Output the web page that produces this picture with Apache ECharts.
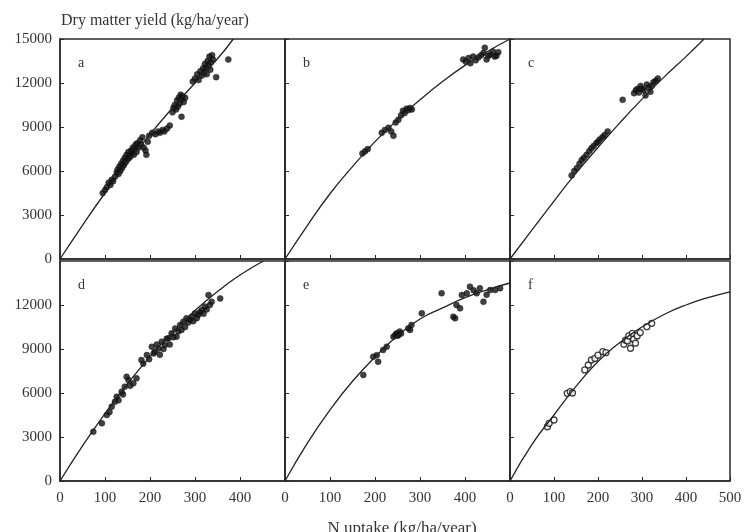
<!DOCTYPE html>
<html>
<head>
<meta charset="utf-8">
<script src="https://cdn.jsdelivr.net/npm/echarts@6/dist/echarts.min.js"></script>
<style>
  html, body { margin: 0; padding: 0; background: #fff; }
  #chart { width: 745px; height: 532px; }
</style>
</head>
<body>
<div id="chart"></div>
<script>
// tick labels
const xTicks = [0, 100, 200, 300, 400, 500]
const yTicks = [0, 3000, 6000, 9000, 12000, 15000]
const panelLetters = ['a', 'b', 'c', 'd', 'e', 'f']

// fitted curves [N uptake, dry matter]
const aCurve = [[0, 0], [50, 2300], [100, 4500], [150, 6550], [200, 8500], [250, 10300], [300, 12000], [350, 13650], [385, 15000]]
const bCurve = [[0, 0], [50, 2300], [100, 4450], [150, 6300], [200, 8000], [250, 9500], [300, 10850], [350, 12100], [400, 13200], [450, 14150], [500, 15000]]
const cCurve = [[0, 0], [100, 3950], [150, 5850], [200, 7600], [250, 9300], [300, 10900], [350, 12400], [400, 13800], [441, 15000]]
const dCurve = [[0, 0], [50, 2400], [100, 4600], [150, 6630], [200, 8480], [250, 10150], [300, 11620], [350, 12920], [400, 14040], [452, 15000]]
const eCurve = [[0, 0], [50, 2600], [100, 4850], [150, 6800], [200, 8450], [250, 9900], [300, 11050], [350, 11800], [400, 12500], [450, 13050], [500, 13500]]
const fCurve = [[0, 0], [50, 2500], [100, 4500], [150, 6450], [200, 8150], [250, 9450], [300, 10500], [350, 11350], [400, 12000], [450, 12500], [500, 12900]]

// observations
const aPoints = [[95, 4500], [100, 4700], [104, 4900], [108, 5200], [112, 5050], [115, 5400], [118, 5300], [122, 5600], [126, 5900], [128, 6100], [130, 5800], [132, 6300], [134, 6000], [136, 6500], [138, 6200], [140, 6700], [142, 6400], [144, 6900], [146, 6600], [148, 7100], [150, 6800], [152, 7300], [154, 6900], [156, 7000], [158, 7400], [160, 7200], [162, 7600], [164, 7100], [166, 7500], [168, 7800], [170, 7300], [172, 7900], [175, 7600], [178, 8100], [180, 7800], [183, 8300], [186, 7600], [190, 7400], [192, 7100], [195, 8000], [198, 8400], [205, 8600], [212, 8500], [218, 8700], [222, 8600], [228, 8800], [232, 8700], [238, 8900], [244, 9100], [250, 10000], [252, 10300], [255, 10500], [258, 10200], [260, 10800], [262, 10400], [264, 11000], [266, 10600], [268, 11200], [270, 10900], [272, 11100], [275, 10700], [278, 11000], [270, 9700], [295, 12100], [300, 12300], [305, 12600], [308, 12200], [312, 12800], [315, 12500], [318, 13000], [320, 12700], [322, 13300], [325, 13000], [328, 13500], [330, 13200], [332, 13800], [335, 13400], [338, 13900], [340, 13600], [326, 12600], [334, 12900], [347, 12400], [374, 13600]]
const bPoints = [[172, 7200], [178, 7350], [184, 7500], [215, 8600], [222, 8800], [230, 8950], [236, 8700], [241, 8400], [246, 9300], [252, 9500], [258, 9800], [262, 10100], [266, 9950], [270, 10250], [274, 10150], [278, 10300], [282, 10200], [396, 13600], [402, 13450], [408, 13700], [412, 13350], [418, 13800], [424, 13550], [430, 13750], [436, 13900], [441, 14050], [444, 14400], [448, 13600], [452, 13850], [456, 13950], [462, 14150], [466, 13800], [470, 13850], [474, 14100]]
const cPoints = [[140, 5700], [146, 6000], [152, 6200], [158, 6500], [163, 6750], [168, 6900], [174, 7100], [180, 7350], [185, 7550], [190, 7700], [196, 7900], [200, 8000], [204, 8150], [210, 8300], [215, 8450], [222, 8700], [256, 10850], [282, 11300], [286, 11500], [290, 11600], [293, 11350], [297, 11800], [300, 11600], [304, 11500], [308, 11150], [311, 11900], [315, 11700], [319, 11400], [322, 11800], [326, 12050], [331, 12150], [336, 12300]]
const dPoints = [[74, 3360], [93, 3930], [104, 4500], [110, 4700], [115, 5070], [122, 5400], [126, 5750], [130, 5500], [137, 6090], [140, 5900], [144, 6430], [148, 7110], [152, 6890], [156, 6500], [163, 6660], [170, 7000], [181, 8250], [185, 8000], [193, 8590], [198, 8300], [204, 9150], [208, 8700], [211, 8820], [215, 9300], [219, 9040], [222, 8600], [226, 9500], [230, 9000], [233, 9270], [237, 9700], [241, 9730], [244, 9300], [248, 10070], [252, 9800], [256, 10400], [259, 9840], [263, 10200], [267, 10640], [270, 10300], [274, 10860], [278, 10500], [281, 11090], [285, 10800], [289, 11000], [293, 11200], [296, 10900], [300, 11430], [304, 11100], [307, 11320], [311, 11500], [315, 11660], [319, 11400], [322, 11890], [326, 11700], [330, 12680], [333, 12000], [337, 12220], [356, 12450]]
const ePoints = [[174, 7230], [196, 8470], [204, 8580], [207, 8130], [218, 8930], [226, 9160], [241, 9840], [245, 9950], [248, 10070], [250, 9900], [252, 9950], [255, 10190], [258, 10050], [274, 10410], [278, 10300], [281, 10640], [304, 11430], [348, 12800], [374, 11200], [378, 11090], [381, 12000], [389, 11770], [393, 12680], [404, 12800], [411, 13250], [419, 13000], [426, 12800], [433, 13140], [441, 12220], [448, 12700], [456, 13020], [467, 13020], [478, 13140]]
const fPoints = [[85, 3700], [89, 3930], [100, 4160], [130, 5980], [137, 6090], [142, 6000], [170, 7570], [178, 7910], [185, 8250], [193, 8360], [200, 8580], [211, 8820], [218, 8750], [259, 9320], [263, 9600], [267, 9550], [270, 9890], [274, 9050], [278, 10070], [281, 9660], [285, 9400], [289, 9890], [296, 10120], [311, 10520], [322, 10750]]

const curves = [aCurve, bCurve, cCurve, dCurve, eCurve, fCurve]
const points = [aPoints, bPoints, cPoints, dPoints, ePoints, fPoints]

const font = "'Liberation Serif', 'DejaVu Serif', serif"
const lefts = [60, 285, 510]
const widths = [225, 225, 220]
const tops = [39, 261]

const grids = [], xAxes = [], yAxes = [], series = [], titles = []

for (let i = 0; i < 6; i++) {
    const col = i % 3
    const row = Math.floor(i / 3)
    grids.push({
        left: lefts[col], top: tops[row], width: widths[col], height: 220,
        show: true, borderColor: '#2a2a2a', borderWidth: 1.5, backgroundColor: 'transparent'
    })
    xAxes.push({
        type: 'value', gridIndex: i, min: xTicks[0], max: xTicks[xTicks.length - 1], interval: 100,
        axisLine: { lineStyle: { color: '#2a2a2a', width: 1.5 } },
        axisTick: { show: true, inside: true, length: 4, lineStyle: { color: '#2a2a2a' } },
        axisLabel: {
            show: row === 1, color: '#333', fontFamily: font, fontSize: 15, margin: 10,
            showMaxLabel: col === 2, formatter: v => String(v)
        },
        splitLine: { show: false }
    })
    yAxes.push({
        type: 'value', gridIndex: i, min: yTicks[0], max: yTicks[yTicks.length - 1], interval: 3000,
        axisLine: { lineStyle: { color: '#2a2a2a', width: 1.5 } },
        axisTick: { show: true, inside: true, length: 4, lineStyle: { color: '#2a2a2a' } },
        axisLabel: {
            show: col === 0, color: '#333', fontFamily: font, fontSize: 15, margin: 8,
            showMaxLabel: row === 0, formatter: v => String(v)
        },
        splitLine: { show: false }
    })
    series.push({
        type: 'line', xAxisIndex: i, yAxisIndex: i, data: curves[i], smooth: true,
        showSymbol: false, clip: true, silent: true,
        lineStyle: { color: '#222', width: 1.3 }
    })
    series.push({
        type: 'scatter', xAxisIndex: i, yAxisIndex: i, data: points[i],
        symbol: 'circle', symbolSize: i === 5 ? 6 : 6,
        itemStyle: i === 5
            ? { color: '#fff', borderColor: '#111', borderWidth: 1.3 }
            : { color: '#111', borderColor: '#111', borderWidth: 0.5 }
    })
    titles.push({
        text: panelLetters[i], left: lefts[col] + 13, top: tops[row] + 12,
        textStyle: { fontFamily: font, fontSize: 14, fontWeight: 'normal', color: '#333' }
    })
}

titles.push({
    text: 'Dry matter yield (kg/ha/year)', left: 56, top: 8,
    textStyle: { fontFamily: font, fontSize: 16, fontWeight: 'normal', color: '#333' }
})
titles.push({
    text: 'N uptake (kg/ha/year)', left: 397, top: 515, textAlign: 'center',
    textStyle: { fontFamily: font, fontSize: 17, fontWeight: 'normal', color: '#333' }
})

const chart = echarts.init(document.getElementById('chart'))
chart.setOption({
    animation: false,
    backgroundColor: '#fff',
    title: titles,
    grid: grids,
    xAxis: xAxes,
    yAxis: yAxes,
    series: series
})
</script>
</body>
</html>
